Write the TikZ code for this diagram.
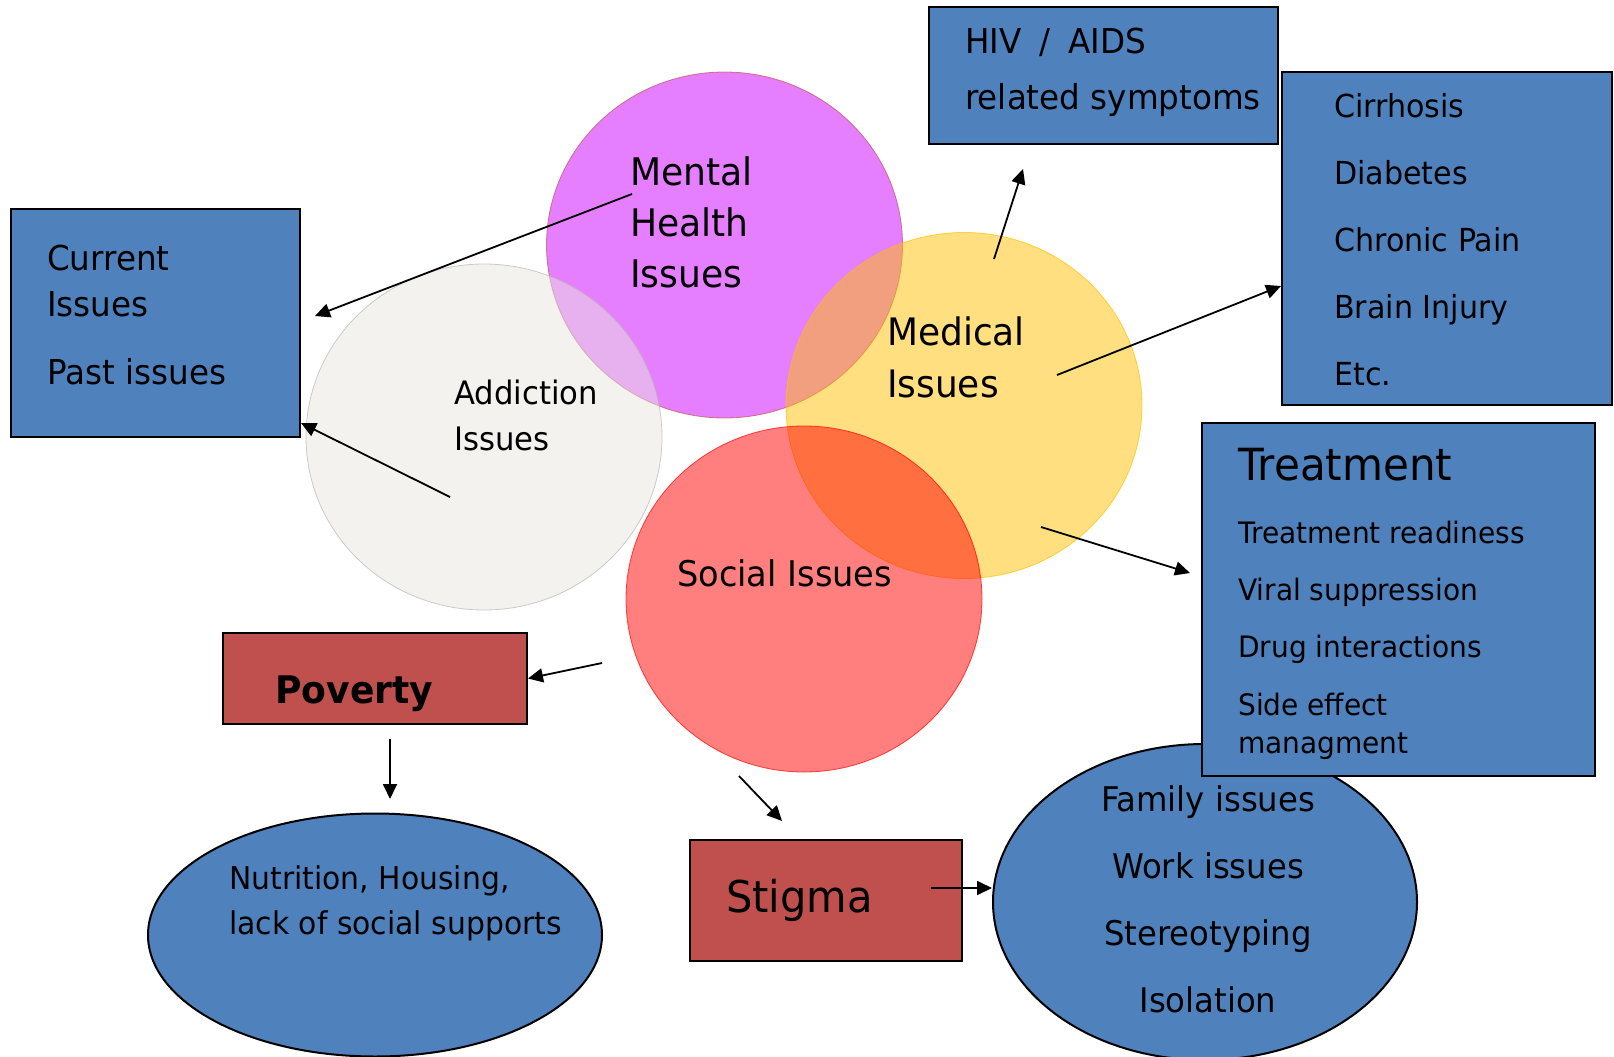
\documentclass[tikz,border=0pt]{standalone}
\usepackage{fontspec}
\setmainfont[FakeStretch=0.95]{DejaVu Sans}
\usetikzlibrary{arrows.meta}
\usetikzlibrary{shapes.geometric}

\definecolor{boxblue}{RGB}{79,129,189}
\definecolor{boxred}{RGB}{192,80,77}
\definecolor{mentalc}{RGB}{204,0,255}
\definecolor{addictc}{RGB}{231,229,221}
\definecolor{medicalc}{RGB}{255,192,0}
\definecolor{socialc}{RGB}{255,0,0}
\newcommand{\fsz}[2]{\fontsize{#1}{#2}\selectfont}

\begin{document}
\begin{tikzpicture}[x=1pt,y=-1pt]
\tikzset{venn/.style={ellipse, minimum width=356pt, minimum height=346pt, inner sep=0pt, fill opacity=0.5, draw opacity=0.7, line width=0.8pt}}
\tikzset{bluebox/.style={rectangle, draw, line width=2pt, fill=boxblue, inner sep=0pt}}
\tikzset{redbox/.style={rectangle, draw, line width=2pt, fill=boxred, inner sep=0pt}}
\tikzset{blueoval/.style={ellipse, draw, line width=2pt, fill=boxblue, inner sep=0pt}}
\tikzset{txt/.style={anchor=base west, inner sep=0pt, align=left}}
\tikzset{arr/.style={-{Triangle[length=15pt,width=14pt]}, line width=1.8pt}}
\useasboundingbox (0,0) rectangle (1614,1057);
% the four issue circles
\node[venn, fill=mentalc, draw=boxred] (mental) at (724.5,245) {};
\node[venn, fill=addictc, draw=addictc!80!black] (addict) at (484,437) {};
\node[venn, fill=medicalc, draw=medicalc] (medical) at (964,405.5) {};
\node[venn, fill=socialc, draw=socialc] (social) at (804,599) {};
% boxes
\node[bluebox, minimum width=289pt, minimum height=228pt] (curbox) at (155.5,323) {};
\node[bluebox, minimum width=349pt, minimum height=137pt] (hivbox) at (1103.5,75.5) {};
\node[bluebox, minimum width=330pt, minimum height=333pt] (medbox) at (1447,238.5) {};
\node[blueoval, minimum width=424pt, minimum height=316pt] (family) at (1205,902) {};
\node[bluebox, minimum width=393pt, minimum height=353pt] (treatbox) at (1398.5,599.5) {};
\node[redbox, minimum width=304pt, minimum height=91pt] (poverty) at (375,678.5) {};
\node[redbox, minimum width=272pt, minimum height=121pt] (stigma) at (826,900.5) {};
\node[blueoval, minimum width=454pt, minimum height=243pt] (needs) at (375,935) {};
% texts (anchored at the baseline of their last line)
\node[txt, font=\fsz{38}{51}] (mentaltxt) at (630,287) {Mental\\Health\\Issues};
\node[txt, font=\fsz{32.3}{46}] (addicttxt) at (454,450) {Addiction\\Issues};
\node[txt, font=\fsz{37.8}{52}] (medicaltxt) at (887,397) {Medical\\Issues};
\node[txt, font=\fsz{35.4}{44}] (socialtxt) at (677,586) {Social Issues};
\node[txt, font=\fsz{34.3}{46}] (curtxt) at (47,384) {Current\\Issues\\[22pt]Past issues};
\node[txt, font=\fsz{34.3}{56}] (hivtxt) at (965,110) {HIV\hspace{0.22em} / \hspace{0.22em}AIDS\\related symptoms};
\node[txt, font=\fsz{31.7}{67}] (medtxt) at (1334,385) {Cirrhosis\\Diabetes\\Chronic Pain\\Brain Injury\\Etc.};
\node[txt, font=\fsz{44.3}{50}] (treattitle) at (1238,480) {Treatment};
\node[txt, font=\fsz{29.5}{38}] (treattxt) at (1238,753) {Treatment readiness\\[19pt]Viral suppression\\[19pt]Drug interactions\\[20pt]Side effect\\managment};
\node[txt, font=\bfseries\fsz{38}{50}] (povtxt) at (275,703) {Poverty};
\node[txt, font=\fsz{43.8}{50}] (stigtxt) at (726,912) {Stigma};
\node[txt, font=\fsz{31.4}{45}] (needstxt) at (229,934) {Nutrition, Housing,\\lack of social supports};
\node[anchor=base, inner sep=0pt, align=center, font=\fsz{34}{67}] (familytxt) at (1208,1012) {Family issues\\Work issues\\Stereotyping\\Isolation};
% arrow ends
\coordinate (mentalout) at (632,194);
\coordinate (curin) at (315,316);
\coordinate (addictout) at (450,497);
\coordinate (hivout) at (994,259);
\coordinate (hivin) at (1023,169);
\coordinate (medout) at (1057,375);
\coordinate (treatout) at (1041,527);
\coordinate (treatin) at (1190,573);
\coordinate (povout) at (602,663);
\coordinate (needsout) at (390,739);
\coordinate (needsin) at (390,799);
\coordinate (stigout) at (739,776);
\coordinate (stigin) at (782,821);
\coordinate (familyout) at (931,888);
% arrows
\draw[arr] (mentalout) -- (curin);
\draw[arr] (addictout) -- ([yshift=15pt]curbox.south east);
\draw[arr] (hivout) -- (hivin);
\draw[arr] (medout) -- ([yshift=-47.5pt]medbox.west);
\draw[arr] (treatout) -- (treatin);
\draw[arr] (povout) -- (poverty.east);
\draw[arr] (needsout) -- (needsin);
\draw[arr] (stigout) -- (stigin);
\draw[arr] (familyout) -- ([yshift=14pt]family.west);
\end{tikzpicture}
\end{document}
